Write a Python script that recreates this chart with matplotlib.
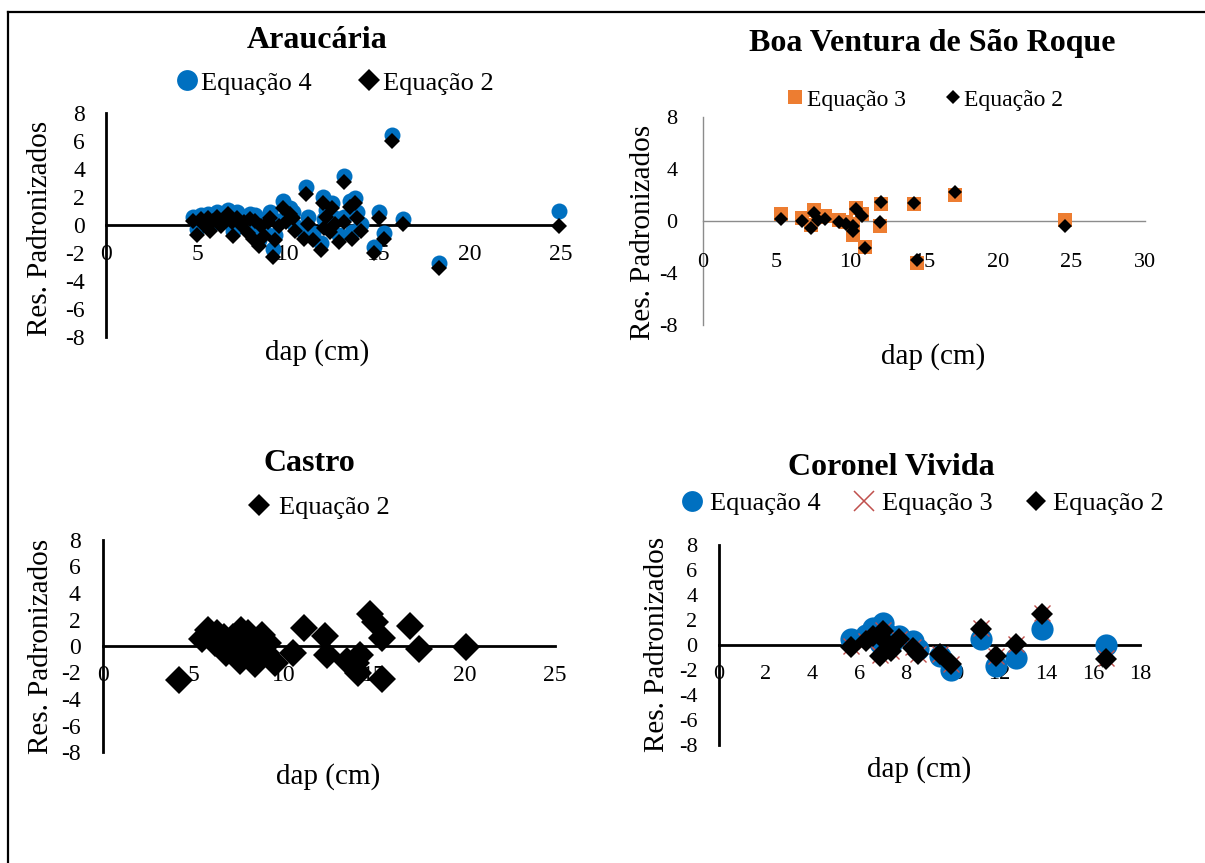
import numpy as np
import matplotlib
matplotlib.use('Agg')
import matplotlib.pyplot as plt
from matplotlib.lines import Line2D

plt.rcParams['font.family'] = ['Liberation Serif', 'DejaVu Serif']
plt.rcParams['axes.unicode_minus'] = False

# ---------------- data ----------------
# Araucária
arau_dap = [4.8, 5.0, 5.2, 5.4, 5.6, 5.7, 5.9, 6.1, 6.3, 6.5, 6.7, 6.9, 7.0, 7.2, 7.4,
            7.6, 7.8, 7.9, 8.1, 8.2, 8.4, 8.5, 8.7, 8.9, 9.0, 9.2, 9.3, 9.5, 9.7, 9.9,
            10.1, 10.3, 10.4, 10.9, 11.0, 11.1, 11.4, 11.8, 11.9, 12.0, 12.1, 12.3, 12.4,
            12.6, 12.8, 13.1, 13.1, 13.4, 13.5, 13.7, 13.8, 14.0, 14.7, 15.0, 15.3, 15.7,
            16.3, 18.3, 24.9]
arau_eq4 = [0.6, -0.3, 0.7, 0.3, 0.8, -0.1, 0.6, 0.9, 0.2, 0.7, 1.1, 0.5, -0.4, 0.9, 0.3,
            0.6, -0.2, 0.8, -0.6, 0.7, -1.1, 0.3, -0.4, 0.6, 0.9, -1.7, -0.7, 0.3, 1.7, 0.6,
            1.2, 0.9, -0.1, -0.5, 2.7, 0.6, -0.6, -1.3, 2.0, 0.4, 1.1, -0.1, 1.6,
            0.5, -0.7, 3.5, 0.6, 1.7, -0.5, 1.9, 0.9, 0.1, -1.6, 0.9, -0.6, 6.4,
            0.4, -2.7, 1.0]
arau_eq2 = [0.3, -0.7, 0.4, 0.0, 0.5, -0.4, 0.3, 0.6, -0.1, 0.4, 0.8, 0.2, -0.8, 0.5, 0.0,
            0.2, -0.6, 0.4, -1.0, 0.3, -1.5, -0.1, -0.8, 0.2, 0.5, -2.3, -1.1, -0.1, 1.2, 0.2,
            0.8, 0.5, -0.4, -1.0, 2.2, 0.1, -1.1, -1.8, 1.6, -0.2, 0.6, -0.5, 1.2,
            0.1, -1.2, 3.1, 0.2, 1.3, -1.0, 1.6, 0.5, -0.4, -2.0, 0.5, -1.0, 6.0,
            0.1, -3.1, -0.1]

# Boa Ventura de São Roque
boa_dap = [5.3, 6.7, 7.3, 7.5, 7.8, 8.3, 9.2, 9.7, 10.2, 10.2, 10.4, 10.8, 11.0, 12.0,
           12.1, 14.3, 14.5, 17.1, 24.6]
boa_eq3 = [0.5, 0.25, -0.3, 0.85, 0.3, 0.35, 0.1, -0.05, -1.1, -0.2, 1.0, 0.5, -2.0, -0.35,
           1.3, 1.3, -3.2, 2.0, 0.05]
boa_eq2 = [0.15, 0.0, -0.55, 0.6, 0.05, 0.15, -0.05, -0.2, -0.8, -0.4, 0.9, 0.35, -2.1, -0.1,
           1.45, 1.4, -3.0, 2.2, -0.35]

# Castro
castro_dap = [4.2, 5.5, 5.8, 6.2, 6.3, 6.5, 6.7, 6.8, 7.1, 7.2, 7.55, 7.65, 7.8, 8.0, 8.1,
              8.3, 8.4, 8.6, 8.8, 9.0, 9.1, 9.5, 10.5, 11.1, 12.3, 12.4, 13.5, 14.0, 14.2,
              14.1, 14.75, 15.05, 15.45, 15.45, 17.0, 17.5, 20.1]
castro_eq2 = [-2.6, 0.5, 1.2, 0.2, 1.0, 0.45, 0.7, -0.55, -0.05, 0.7, -1.1, 1.2, 0.45, 0.95, -0.05,
              -0.55, -1.35, -0.3, 0.85, -0.55, 0.2, -1.3, -0.5, 1.35, 0.75, -0.7, -1.15, -1.3, -0.7,
              -2.0, 2.4, 1.8, 0.6, -2.5, 1.5, -0.2, -0.05]

# Coronel Vivida
cv_dap = [5.65, 6.3, 6.6, 6.9, 7.0, 7.2, 7.35, 7.7, 8.3, 8.5, 9.45, 9.9, 11.2, 11.85, 12.7,
          13.8, 16.55]
cv_eq4 = [0.45, 0.8, 1.4, 0.2, 1.8, 0.9, 0.1, 0.7, 0.3, -0.3, -0.9, -2.0, 0.45, -1.7, -1.0,
          1.3, -0.03]
cv_eq3 = [-0.1, 0.35, 0.6, -0.8, 1.2, 0.25, -0.45, 0.5, -0.15, -0.7, -0.7, -1.5, 1.35, -0.85, 0.1,
          2.55, -1.05]
cv_eq2 = [-0.15, 0.3, 0.7, -0.9, 1.15, 0.2, -0.5, 0.45, -0.2, -0.75, -0.75, -1.55, 1.3, -0.9, 0.05,
          2.5, -1.1]

BLUE = '#0070C0'
ORANGE = '#ED7D31'
RED = '#C0504D'

W, H = 1205, 863
fig = plt.figure(figsize=(W / 100, H / 100), dpi=100)


def rect(l, r, t, b):
    return [l / W, 1 - b / H, (r - l) / W, (b - t) / H]


def setup(ax, xmax, xstep, ystep, lw, color, tickfs, xpad, ypad):
    ax.set_xlim(0, xmax)
    ax.set_ylim(-8, 8)
    ax.spines['top'].set_visible(False)
    ax.spines['right'].set_visible(False)
    ax.spines['bottom'].set_position(('data', 0))
    for s in ['left', 'bottom']:
        ax.spines[s].set_linewidth(lw)
        ax.spines[s].set_color(color)
        ax.spines[s].set_zorder(1)
    xt = np.arange(0, xmax + 0.01, xstep)
    yt = np.arange(-8, 8.01, ystep)
    ax.set_xticks(xt)
    ax.set_xticklabels([str(int(v)) for v in xt])
    ax.set_yticks(yt)
    ax.set_yticklabels([str(int(v)) for v in yt])
    ax.tick_params(length=0, labelsize=tickfs)
    ax.tick_params(axis='x', pad=xpad)
    ax.tick_params(axis='y', pad=ypad)
    ax.patch.set_alpha(0)


def ftext(x, y, s, **kw):
    fig.text(x / W, 1 - y / H, s, ha='center', va='center', **kw)


def legend(ax, handles, labels, cx, cy, fs, hl, htp, cs):
    ax.legend(handles, labels, loc='center', bbox_to_anchor=(cx / W, 1 - cy / H),
              bbox_transform=fig.transFigure, ncol=len(handles), frameon=False,
              fontsize=fs, handlelength=hl, handletextpad=htp, columnspacing=cs,
              borderpad=0, borderaxespad=0)


# ---------------- Panel 1: Araucária ----------------
ax1 = fig.add_axes(rect(106, 561, 113, 337))
setup(ax1, 25, 5, 2, 2.0, 'black', 17, 13.5, 15)
ax1.plot(arau_dap, arau_eq4, 'o', color=BLUE, ms=11.5, mew=0, zorder=3, clip_on=False)
ax1.plot(arau_dap, arau_eq2, 'D', color='black', ms=8.5, mew=0, zorder=4, clip_on=False)
legend(ax1,
       [Line2D([], [], ls='none', marker='o', color=BLUE, ms=15, mew=0),
        Line2D([], [], ls='none', marker='D', color='black', ms=11, mew=0)],
       ['Equação 4', 'Equação 2'], 335, 83, 19, 0.8, 0.15, 1.76)
ftext(317, 40, 'Araucária', fontsize=23, fontweight='bold')
ftext(40, 228, 'Res. Padronizados', rotation=90, fontsize=21)
ftext(317, 353, 'dap (cm)', fontsize=21)

# ---------------- Panel 2: Boa Ventura de São Roque ----------------
ax2 = fig.add_axes(rect(703, 1145, 117, 325))
setup(ax2, 30, 5, 4, 1.0, '#8C8C8C', 16, 23, 18.5)
ax2.plot(boa_dap, boa_eq3, 's', color=ORANGE, ms=10.5, mew=0, zorder=3, clip_on=False)
ax2.plot(boa_dap, boa_eq2, 'D', color='black', ms=7, mew=0, zorder=4, clip_on=False)
legend(ax2,
       [Line2D([], [], ls='none', marker='s', color=ORANGE, ms=10.5, mew=0),
        Line2D([], [], ls='none', marker='D', color='black', ms=7, mew=0)],
       ['Equação 3', 'Equação 2'], 925, 100, 17, 0.7, 0.15, 1.64)
ftext(932, 44, 'Boa Ventura de São Roque', fontsize=23, fontweight='bold')
ftext(643, 232, 'Res. Padronizados', rotation=90, fontsize=21)
ftext(933, 357, 'dap (cm)', fontsize=21)

# ---------------- Panel 3: Castro ----------------
ax3 = fig.add_axes(rect(103, 555, 540, 752))
setup(ax3, 25, 5, 2, 2.0, 'black', 17, 14, 16)
ax3.plot(castro_dap, castro_eq2, 'D', color='black', ms=13.8, mew=0, zorder=4, clip_on=False)
legend(ax3,
       [Line2D([], [], ls='none', marker='D', color='black', ms=11.5, mew=0)],
       ['Equação 2'], 318, 507, 19, 1.0, 0.25, 1.5)
ftext(309, 463, 'Castro', fontsize=23, fontweight='bold')
ftext(41, 646, 'Res. Padronizados', rotation=90, fontsize=21)
ftext(328, 777, 'dap (cm)', fontsize=21)

# ---------------- Panel 4: Coronel Vivida ----------------
ax4 = fig.add_axes(rect(719, 1140, 545, 745))
setup(ax4, 18, 2, 2, 2.0, 'black', 16, 14.5, 15.5)
ax4.plot(cv_dap, cv_eq4, 'o', color=BLUE, ms=16, mew=0, zorder=3, clip_on=False)
ax4.plot(cv_dap, cv_eq3, 'x', color=RED, ms=12, mew=1.0, zorder=3.5, clip_on=False)
ax4.plot(cv_dap, cv_eq2, 'D', color='black', ms=11, mew=0, zorder=4, clip_on=False)
legend(ax4,
       [Line2D([], [], ls='none', marker='o', color=BLUE, ms=15, mew=0),
        Line2D([], [], ls='none', marker='x', color=RED, ms=15, mew=1.1),
        Line2D([], [], ls='none', marker='D', color='black', ms=10.5, mew=0)],
       ['Equação 4', 'Equação 3', 'Equação 2'], 923, 503, 19, 0.8, 0.28, 1.23)
ftext(891, 467, 'Coronel Vivida', fontsize=23, fontweight='bold')
ftext(657, 644, 'Res. Padronizados', rotation=90, fontsize=21)
ftext(919, 770, 'dap (cm)', fontsize=21)

# ---------------- outer frame ----------------
fig.add_artist(Line2D([8 / W, 1], [1 - 12 / H, 1 - 12 / H], color='black', lw=1.6,
                      transform=fig.transFigure))
fig.add_artist(Line2D([8 / W, 8 / W], [0, 1 - 12 / H], color='black', lw=1.6,
                      transform=fig.transFigure))

fig.savefig('out.png', dpi=100, facecolor='white')
